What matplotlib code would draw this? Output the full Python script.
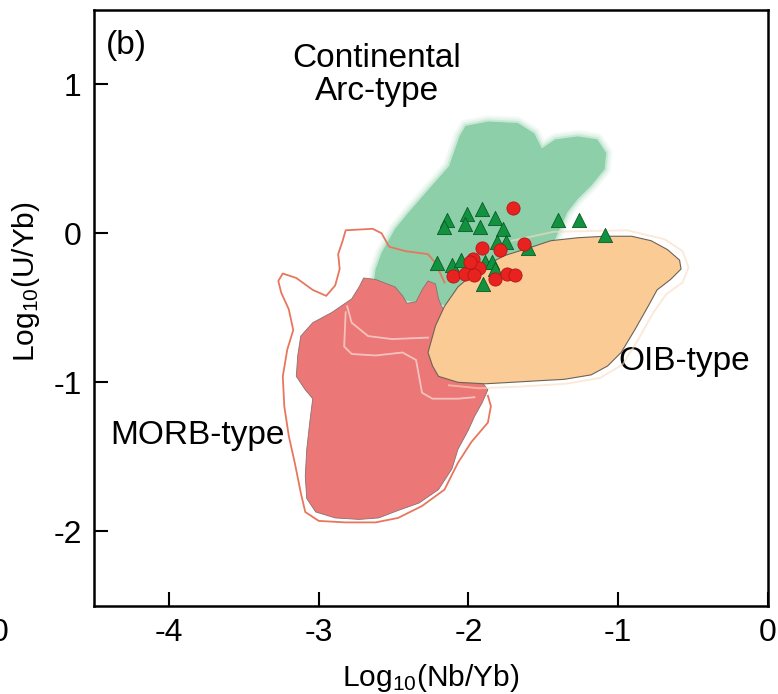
import numpy as np
import matplotlib
matplotlib.use("Agg")
import matplotlib.pyplot as plt
from matplotlib.patches import Polygon

plt.rcParams['font.family'] = ['Liberation Sans', 'DejaVu Sans']
plt.rcParams['mathtext.default'] = 'regular'
plt.rcParams['axes.unicode_minus'] = False

# field boundaries, log10(Nb/Yb) vs log10(U/Yb)
arc_x = [-2.06, -2.02, -1.87, -1.67, -1.56, -1.51, -1.42, -1.27, -1.14, -1.08,
         -1.09, -1.18, -1.27, -1.34, -1.38, -1.44, -1.67, -1.93, -2.13, -2.27,
         -2.47, -2.65, -2.64, -2.62, -2.58, -2.49, -2.40, -2.27, -2.13]
arc_y = [0.65, 0.72, 0.75, 0.74, 0.67, 0.57, 0.63, 0.65, 0.63, 0.54,
         0.43, 0.32, 0.23, 0.14, 0.05, -0.08, -0.21, -0.38, -0.48, -0.48,
         -0.44, -0.44, -0.38, -0.24, -0.13, 0.03, 0.14, 0.29, 0.45]

morb_x = [-2.70, -2.73, -2.78, -2.91, -3.04, -3.12, -3.14, -3.15, -3.09, -3.04,
          -3.06, -3.08, -3.09, -3.08, -3.02, -2.89, -2.73, -2.60, -2.47, -2.33,
          -2.20, -2.11, -2.07, -2.00, -1.96, -1.91, -1.87, -1.98, -2.07, -2.13,
          -2.18, -2.20, -2.22, -2.27, -2.31, -2.35, -2.41, -2.44, -2.49, -2.62]
morb_y = [-0.30, -0.36, -0.44, -0.53, -0.60, -0.69, -0.82, -0.96, -1.05, -1.11,
          -1.27, -1.45, -1.63, -1.78, -1.87, -1.91, -1.92, -1.91, -1.86, -1.81,
          -1.72, -1.58, -1.45, -1.32, -1.23, -1.14, -1.05, -0.91, -0.69, -0.56,
          -0.49, -0.44, -0.34, -0.32, -0.38, -0.46, -0.47, -0.42, -0.36, -0.31]

oib_x = [-2.24, -2.27, -2.22, -2.16, -2.07, -1.93, -1.76, -1.60, -1.45, -1.27,
         -1.09, -0.91, -0.78, -0.67, -0.59, -0.58, -0.65, -0.74, -0.80, -0.89,
         -0.98, -1.07, -1.18, -1.36, -1.54, -1.71, -1.89, -2.07, -2.20]
oib_y = [-0.89, -0.80, -0.62, -0.49, -0.36, -0.24, -0.15, -0.10, -0.05, -0.03,
         -0.02, -0.02, -0.05, -0.11, -0.18, -0.24, -0.31, -0.38, -0.49, -0.65,
         -0.80, -0.89, -0.95, -0.98, -0.99, -1.00, -1.01, -1.00, -0.96]

# outer MORB envelope (open line)
env_x = [-2.16, -2.22, -2.27, -2.42, -2.53, -2.58, -2.64, -2.82, -2.84, -2.87,
         -2.86, -2.89, -2.95, -3.04, -3.15, -3.24, -3.27, -3.25, -3.20, -3.17,
         -3.21, -3.24, -3.23, -3.20, -3.16, -3.12, -3.09, -3.00, -2.82, -2.62,
         -2.47, -2.31, -2.16, -2.07, -1.98, -1.87, -1.85, -1.87]
env_y = [-0.33, -0.20, -0.14, -0.12, -0.09, 0.00, 0.03, 0.02, -0.05, -0.14,
         -0.24, -0.35, -0.42, -0.38, -0.30, -0.27, -0.32, -0.40, -0.51, -0.65,
         -0.78, -0.96, -1.16, -1.36, -1.54, -1.74, -1.87, -1.93, -1.94, -1.94,
         -1.91, -1.83, -1.72, -1.54, -1.40, -1.27, -1.16, -1.09]

# pale inner contours
in1_x = [-2.81, -2.78, -2.67, -2.51, -2.27]
in1_y = [-0.49, -0.60, -0.69, -0.71, -0.70]
in2_x = [-2.82, -2.83, -2.78, -2.62, -2.44, -2.35, -2.33, -2.31, -2.24, -2.07, -1.96]
in2_y = [-0.53, -0.76, -0.81, -0.82, -0.80, -0.85, -0.96, -1.07, -1.11, -1.11, -1.10]
halo_x = [-1.71, -1.43, -0.94, -0.69, -0.57, -0.53, -0.57, -0.68, -0.77, -0.87,
          -0.97, -1.12, -1.35, -1.67, -1.93, -2.13]
halo_y = [-0.05, 0.01, 0.02, -0.04, -0.12, -0.23, -0.33, -0.41, -0.54, -0.72,
          -0.88, -0.97, -1.01, -1.03, -1.04, -1.02]

# samples
tri_x = [-2.14, -2.16, -2.01, -2.02, -1.91, -1.92, -1.82, -1.77, -1.81, -1.75,
         -1.60, -1.40, -1.26, -1.09, -2.21, -2.11, -2.05, -1.89, -1.84, -1.82, -1.90]
tri_y = [0.09, 0.04, 0.13, 0.06, 0.16, 0.04, 0.10, 0.03, -0.06, -0.06,
         -0.10, 0.09, 0.09, -0.01, -0.20, -0.21, -0.18, -0.19, -0.19, -0.24, -0.34]
cir_x = [-1.70, -1.91, -1.79, -1.63, -1.97, -1.97, -1.93, -2.10, -2.02, -1.96,
         -1.82, -1.74, -1.69, -1.99]
cir_y = [0.17, -0.10, -0.11, -0.07, -0.17, -0.23, -0.23, -0.29, -0.27, -0.28,
         -0.31, -0.27, -0.28, -0.19]

fig = plt.figure(figsize=(7.78, 6.94), dpi=100)
ax = fig.add_axes([0.121, 0.127, 0.866, 0.859])

# continental arc field, soft edge
arc = np.column_stack([arc_x, arc_y])
for lw, a in [(9, 0.10), (6, 0.15), (3, 0.3)]:
    ax.add_patch(Polygon(arc, closed=True, facecolor='none', edgecolor='#8ccfa9',
                         lw=lw, alpha=a, joinstyle='round', zorder=1))
ax.add_patch(Polygon(arc, closed=True, facecolor='#8ccfa9', edgecolor='none', zorder=1.5))

ax.plot(env_x, env_y, color='#e8765e', lw=1.3, zorder=2)
ax.add_patch(Polygon(np.column_stack([morb_x, morb_y]), closed=True,
                     facecolor='#ec7777', edgecolor='#8a7070', lw=0.6, zorder=3))
ax.plot(in1_x, in1_y, color='#f7d6d0', lw=1.3, alpha=0.8, zorder=3.5)
ax.plot(in2_x, in2_y, color='#f7d6d0', lw=1.3, alpha=0.8, zorder=3.5)
ax.plot(halo_x, halo_y, color='#f9dcc0', lw=1.4, alpha=0.6, zorder=3.6)
ax.add_patch(Polygon(np.column_stack([oib_x, oib_y]), closed=True,
                     facecolor='#fbcb95', edgecolor='#6d6258', lw=0.8, zorder=4))

ax.scatter(tri_x, tri_y, marker='^', s=105, color='#12923f', edgecolors='#0b5a25',
           linewidths=0.6, zorder=6)
ax.scatter(cir_x, cir_y, marker='o', s=90, color='#e8231f', edgecolors='#b3161a',
           linewidths=0.6, zorder=6)

ax.text(-4.42, 1.26, '(b)', fontsize=24, va='center', ha='left')
ax.text(-2.61, 1.06, 'Continental\nArc-type', fontsize=24, ha='center', va='center',
        linespacing=1.1)
ax.text(-0.56, -0.86, 'OIB-type', fontsize=24, ha='center', va='center')
ax.text(-3.81, -1.36, 'MORB-type', fontsize=24, ha='center', va='center')

ax.set_xlim(-4.5, 0)
ax.set_ylim(-2.5, 1.5)
ax.set_xticks([-4, -3, -2, -1, 0])
ax.set_yticks([-2, -1, 0, 1])
ax.tick_params(direction='in', length=10, width=1.5, labelsize=23, pad=9,
               top=False, right=False)
for s in ax.spines.values():
    s.set_linewidth(1.8)
ax.set_xlabel(r'Log$_{10}$(Nb/Yb)', fontsize=21.5, labelpad=10)
ax.set_ylabel(r'Log$_{10}$(U/Yb)', fontsize=21.5)
ax.yaxis.set_label_coords(-0.077, 0.544)

fig.text(0.011, 0.088, '0', fontsize=23, ha='right', va='center')

fig.savefig('out.png', dpi=100)
